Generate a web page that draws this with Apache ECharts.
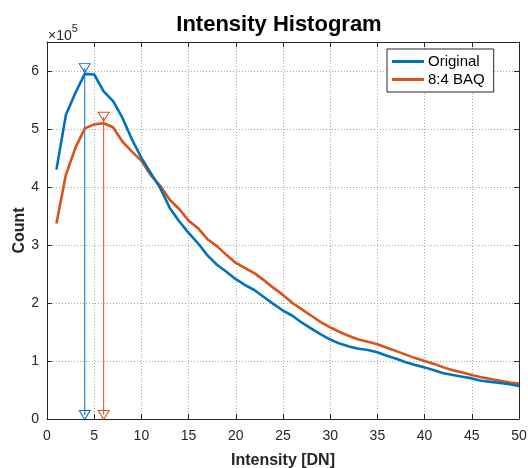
<!DOCTYPE html>
<html>
<head>
<meta charset="utf-8">
<script src="https://cdn.jsdelivr.net/npm/echarts@6/dist/echarts.min.js"></script>
<style>
html,body{margin:0;padding:0;background:#fff;}
#chart{width:528px;height:468px;}
</style>
</head>
<body>
<div id="chart"></div>
<script>
const intensity = [1,2,3,4,5,6,7,8,9,10,11,12,13,14,15,16,17,18,19,20,21,22,23,24,25,26,27,28,29,30,31,32,33,34,35,36,37,38,39,40,41,42,43,44,45,46,47,48,49,50];
const original = [430000,524000,562000,595000,594000,565000,548000,519000,482000,450000,424000,398000,364000,341000,321000,303000,282000,266000,254000,241000,231000,222000,210000,198000,187000,178000,166000,156000,146000,137000,130000,125000,121000,119000,115000,109000,104000,98000,93000,89000,84000,79000,76000,73000,70000,66000,64000,62000,60000,57000];
const baq = [337000,421000,467000,501000,508000,510000,503000,478000,461000,445000,420000,402000,378000,362000,342000,329000,310000,298000,283000,269000,260000,251000,239000,226000,214000,200000,189000,178000,167000,158000,150000,143000,137000,133000,129000,123000,117000,111000,105000,100000,95000,89000,84000,80000,76000,72000,69000,66000,63000,61000];
const seriesNames = ['Original', '8:4 BAQ'];
const peakX = [4, 6];
const peakMarkerY = [605000, 521000];
const baseMarkerY = [7000, 7000];
const xTicks = {min: 0, max: 50, interval: 5};
const yTicks = {min: 0, max: 650000, interval: 100000};
const colors = ['#0072BD', '#D95319'];

const chart = echarts.init(document.getElementById('chart'), null, {renderer: 'canvas'});
const fontFam = '"Liberation Sans", Arial, Helvetica, sans-serif';
const axisColor = '#262626';
const downTri = 'path://M0,0 L10,0 L5,8.66 Z';

function pairs(xs, ys){ return xs.map((x,i)=>[x, ys[i]]); }

const stemSeries = [0,1].map(i => ({
  name: seriesNames[i] + ' peak',
  type: 'line',
  data: [[peakX[i], baseMarkerY[i]], [peakX[i], peakMarkerY[i]]],
  symbol: downTri,
  symbolSize: [11, 9],
  showSymbol: true,
  lineStyle: {color: colors[i], width: 1},
  itemStyle: {color: 'rgba(255,255,255,0)', borderColor: colors[i], borderWidth: 1},
  emphasis: {disabled: true},
  silent: true,
  z: 3,
  animation: false
}));

const option = {
  animation: false,
  backgroundColor: '#fff',
  title: {
    text: 'Intensity Histogram',
    left: 274, top: 9, textAlign: 'center',
    textStyle: {fontFamily: fontFam, fontSize: 22, fontWeight: 'bold', color: '#000'}
  },
  legend: {
    data: seriesNames,
    orient: 'vertical',
    left: 387, top: 49,
    padding: [5, 9, 5, 5],
    itemGap: 3,
    itemWidth: 32, itemHeight: 3,
    icon: 'rect',
    borderColor: axisColor, borderWidth: 1,
    backgroundColor: '#fff',
    textStyle: {fontFamily: fontFam, fontSize: 15, color: '#000', padding: [0,0,0,-1]}
  },
  grid: {left: 47, right: 9, top: 42, bottom: 49, containLabel: false, outerBoundsMode: 'none'},
  graphic: [{
    type: 'text', left: 48, top: 23,
    style: {
      text: '{a|\u00d710}{b|5}',
      rich: {
        a: {fontFamily: fontFam, fontSize: 14, fill: axisColor, verticalAlign: 'bottom'},
        b: {fontFamily: fontFam, fontSize: 11, fill: axisColor, verticalAlign: 'top', padding: [0,0,9,0]}
      }
    }
  }],
  xAxis: [{
    type: 'value', min: xTicks.min, max: xTicks.max, interval: xTicks.interval,
    name: 'Intensity [DN]', nameLocation: 'middle', nameGap: 34, nameMoveOverlap: false,
    nameTextStyle: {fontFamily: fontFam, fontSize: 16, fontWeight: 'bold', color: axisColor},
    axisLine: {show: true, lineStyle: {color: axisColor, width: 1}},
    axisTick: {show: true, inside: true, length: 5, lineStyle: {color: axisColor}},
    axisLabel: {fontFamily: fontFam, fontSize: 14, color: axisColor, margin: 10},
    splitLine: {show: true, lineStyle: {color: '#a8a8a8', type: [1, 2], width: 1}}
  }, {
    type: 'value', position: 'top', min: xTicks.min, max: xTicks.max, interval: xTicks.interval,
    axisLine: {show: true, onZero: false, lineStyle: {color: axisColor, width: 1}},
    axisTick: {show: true, inside: true, length: 5, lineStyle: {color: axisColor}},
    axisLabel: {show: false}, splitLine: {show: false}
  }],
  yAxis: [{
    type: 'value', min: yTicks.min, max: yTicks.max, interval: yTicks.interval,
    name: 'Count', nameLocation: 'middle', nameGap: 19, nameMoveOverlap: false,
    nameTextStyle: {fontFamily: fontFam, fontSize: 16, fontWeight: 'bold', color: axisColor},
    axisLine: {show: true, lineStyle: {color: axisColor, width: 1}},
    axisTick: {show: true, inside: true, length: 5, lineStyle: {color: axisColor}},
    axisLabel: {fontFamily: fontFam, fontSize: 14, color: axisColor, margin: 8,
      formatter: v => (v % yTicks.interval === 0 ? String(v / 100000) : '')},
    splitLine: {show: true, lineStyle: {color: '#a8a8a8', type: [1, 2], width: 1}}
  }, {
    type: 'value', position: 'right', min: yTicks.min, max: yTicks.max, interval: yTicks.interval,
    axisLine: {show: true, onZero: false, lineStyle: {color: axisColor, width: 1}},
    axisTick: {show: true, inside: true, length: 5, lineStyle: {color: axisColor}},
    axisLabel: {show: false}, splitLine: {show: false}
  }],
  series: [
    ...stemSeries,
    {
      name: seriesNames[1], type: 'line', data: pairs(intensity, baq),
      showSymbol: false, symbol: 'none', color: colors[1],
      lineStyle: {color: colors[1], width: 2.6}, z: 4
    },
    {
      name: seriesNames[0], type: 'line', data: pairs(intensity, original),
      showSymbol: false, symbol: 'none', color: colors[0],
      lineStyle: {color: colors[0], width: 2.6}, z: 5
    }
  ]
};
chart.setOption(option);
</script>
</body>
</html>
